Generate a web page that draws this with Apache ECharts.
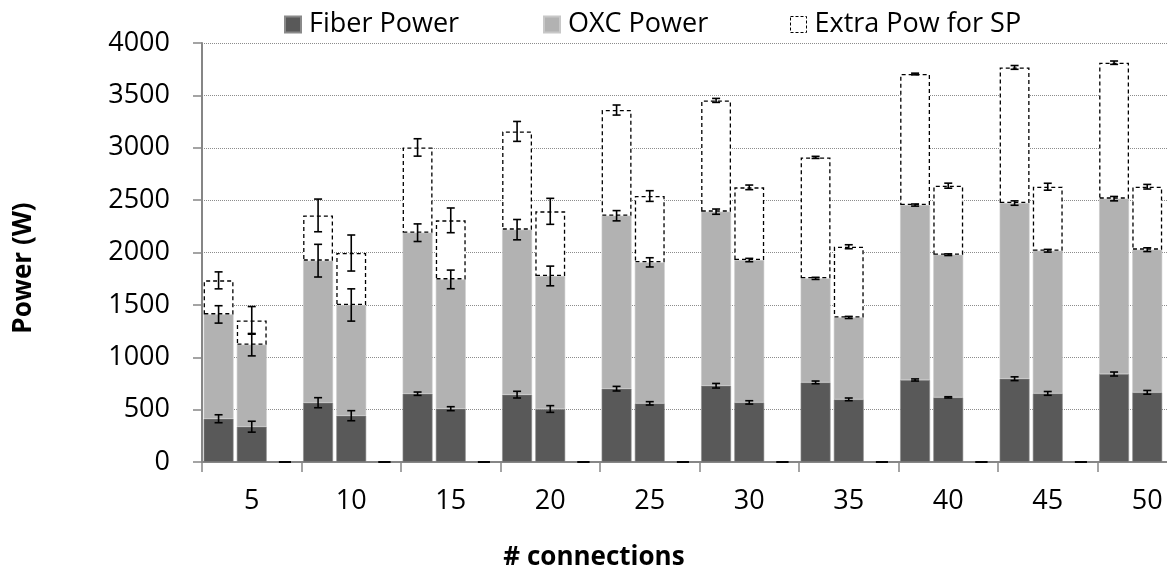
<!DOCTYPE html>
<html>
<head>
<meta charset="utf-8">
<script src="https://cdn.jsdelivr.net/npm/echarts@6/dist/echarts.min.js"></script>
<style>html,body{margin:0;padding:0;background:#fff;overflow:hidden;width:1167px;height:573px;}#chart{width:1197px;height:573px;}</style>
</head>
<body>
<div id="chart"></div>
<script>
// ---- data ----
const categories = ['5', '10', '15', '20', '25', '30', '35', '40', '45', '50'];
const yTicks = [0, 500, 1000, 1500, 2000, 2500, 3000, 3500, 4000];
// first bar of each group (A) and second bar (B)
const fiberA = [413, 566, 652, 643, 700, 728, 760, 783, 795, 840];
const fiberB = [337, 442, 509, 506, 560, 569, 598, 617, 655, 665];
const oxcA   = [996, 1356, 1537, 1575, 1651, 1662, 993, 1670, 1677, 1674];
const oxcB   = [783, 1057, 1234, 1270, 1346, 1359, 782, 1362, 1362, 1362];
const extraA = [325, 432, 814, 938, 1009, 1062, 1155, 1251, 1295, 1298];
const extraB = [232, 496, 564, 617, 633, 694, 675, 659, 611, 601];
// error bar half-widths
const fiberErrA = [38, 48, 16, 32, 22, 22, 13, 10, 18, 19];
const fiberErrB = [52, 48, 19, 32, 16, 16, 13, 6, 18, 18];
const oxcErrA   = [83, 156, 84, 97, 49, 25, 10, 10, 21, 21];
const oxcErrB   = [107, 154, 89, 94, 44, 16, 10, 8, 13, 18];
const extraErrA = [81, 156, 83, 95, 48, 19, 10, 8, 18, 16];
const extraErrB = [132, 172, 118, 124, 51, 22, 19, 24, 33, 22];
// third (empty) slot of each group
const emptySlot = [0, 0, 0, 0, 0, 0, 0, 0, 0, 0];

// ---- build ----
const FONT = '"Open Sans", "Noto Sans", sans-serif';
const slots = [];
categories.forEach(c => { slots.push(c + 'a', c + 'b', c + 'c'); });
function toSlots(a, b) {
  const out = [];
  for (let i = 0; i < a.length; i++) out.push(a[i], b[i], '-');
  return out;
}
const errData = [];
for (let i = 0; i < categories.length; i++) {
  const tA1 = fiberA[i], tA2 = tA1 + oxcA[i], tA3 = tA2 + extraA[i];
  const tB1 = fiberB[i], tB2 = tB1 + oxcB[i], tB3 = tB2 + extraB[i];
  errData.push([3 * i, tA1, fiberErrA[i]], [3 * i, tA2, oxcErrA[i]], [3 * i, tA3, extraErrA[i]]);
  errData.push([3 * i + 1, tB1, fiberErrB[i]], [3 * i + 1, tB2, oxcErrB[i]], [3 * i + 1, tB3, extraErrB[i]]);
}
const emptyData = emptySlot.map((v, i) => [3 * i + 2, v, 0]);

function errRender(capHalf) {
  return function (params, api) {
    const x = api.value(0), y = api.value(1), e = api.value(2);
    const top = api.coord([x, y + e]);
    const bot = api.coord([x, y - e]);
    const st = { stroke: '#000', lineWidth: 1.6 };
    const children = [
      { type: 'line', shape: { x1: top[0] - capHalf, y1: top[1], x2: top[0] + capHalf, y2: top[1] }, style: st },
      { type: 'line', shape: { x1: bot[0] - capHalf, y1: bot[1], x2: bot[0] + capHalf, y2: bot[1] }, style: st }
    ];
    if (e > 0) children.push({ type: 'line', shape: { x1: top[0], y1: top[1], x2: bot[0], y2: bot[1] }, style: st });
    return { type: 'group', children: children };
  };
}

function legendAt(left, name, extra) {
  return Object.assign({
    left: left, top: 6, itemWidth: 16, itemHeight: 16, icon: 'rect', data: [name],
    textStyle: { fontSize: 27, fontFamily: FONT, color: '#000', padding: [0, 0, 0, 3] }
  }, extra || {});
}

const option = {
  backgroundColor: '#fff',
  animation: false,
  legend: [
    legendAt(279, 'Fiber Power'),
    legendAt(538, 'OXC Power'),
    legendAt(785, 'Extra Pow for SP', { itemStyle: { color: '#fff', borderColor: '#000', borderWidth: 1, borderType: [3, 2] } })
  ],
  grid: { left: 202, right: 0, top: 43, bottom: 111, containLabel: false },
  xAxis: [
    {
      type: 'category', data: categories, boundaryGap: true,
      axisLine: { show: true, lineStyle: { color: '#868686', width: 2 } },
      axisTick: { show: true, length: 10, lineStyle: { color: '#868686', width: 1.5 } },
      axisLabel: { fontSize: 27, fontFamily: FONT, color: '#000', margin: 26 },
      splitLine: { show: false }
    },
    {
      type: 'category', data: slots, boundaryGap: true, show: false
    }
  ],
  yAxis: {
    type: 'value', min: 0, max: 4000, interval: 500,
    axisLine: { show: true, lineStyle: { color: '#868686', width: 2 } },
    axisTick: { show: true, length: 9, lineStyle: { color: '#868686', width: 1.5 } },
    axisLabel: {
      fontSize: 27, fontFamily: FONT, color: '#000', margin: 32,
      formatter: v => (yTicks.indexOf(v) >= 0 ? String(v) : '')
    },
    splitLine: { show: true, lineStyle: { color: '#8c8c8c', type: 'dotted', width: 1 } }
  },
  graphic: [
    { type: 'text', x: 594, y: 558, style: { text: '# connections', font: 'bold 26px ' + FONT, fill: '#000', textAlign: 'center', textVerticalAlign: 'middle' } },
    { type: 'text', x: 24, y: 268, rotation: Math.PI / 2, style: { text: 'Power (W)', font: 'bold 26px ' + FONT, fill: '#000', textAlign: 'center', textVerticalAlign: 'middle' } }
  ],
  series: [
    {
      name: 'Fiber Power', type: 'bar', xAxisIndex: 1, stack: 'p', barCategoryGap: '10%',
      itemStyle: { color: '#595959', borderColor: '#8a8a8a', borderWidth: 0.6 },
      data: toSlots(fiberA, fiberB)
    },
    {
      name: 'OXC Power', type: 'bar', xAxisIndex: 1, stack: 'p', barCategoryGap: '10%',
      itemStyle: { color: '#b2b2b2', borderColor: '#c8c8c8', borderWidth: 0.6 },
      data: toSlots(oxcA, oxcB)
    },
    {
      name: 'Extra Pow for SP', type: 'bar', xAxisIndex: 1, stack: 'p', barCategoryGap: '10%',
      itemStyle: { color: '#ffffff', borderColor: '#000', borderWidth: 1.3, borderType: [4, 3] },
      data: toSlots(extraA, extraB)
    },
    {
      name: 'errors', type: 'custom', xAxisIndex: 1, z: 10,
      renderItem: errRender(4), data: errData, silent: true
    },
    {
      name: 'empty', type: 'custom', xAxisIndex: 1, z: 10,
      renderItem: errRender(6), data: emptyData, silent: true
    }
  ]
};
const chart = echarts.init(document.getElementById('chart'), null, { renderer: 'canvas' });
chart.setOption(option);
</script>
</body>
</html>
